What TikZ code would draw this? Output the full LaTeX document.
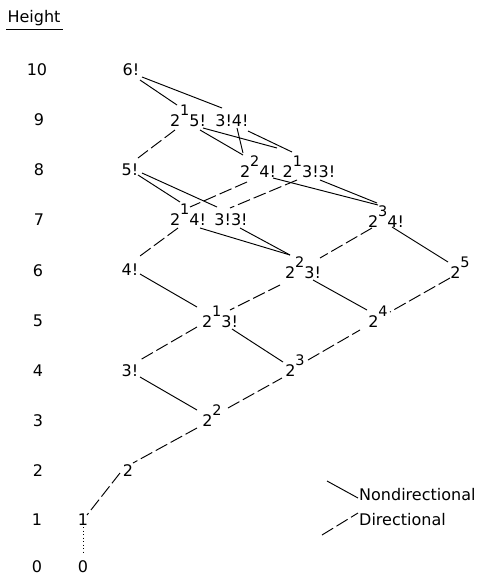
\documentclass[tikz,border=0pt]{standalone}
\usepackage{fontspec}
\setmainfont{DejaVu Sans}
\usetikzlibrary{calc}
\newcommand\supx[1]{\raisebox{11pt}{\fontsize{14.5}{14.5}\selectfont #1}}
\begin{document}
\begin{tikzpicture}[x=1pt,y=-1pt,
  lbl/.style={anchor=base,inner sep=0pt,font=\fontsize{16}{16}\selectfont},
  nd/.style={line width=0.95pt},
  dr/.style={line width=0.95pt,dash pattern=on 13pt off 4pt},
  dt/.style={line width=0.95pt,dash pattern=on 1pt off 2.5pt}]
\useasboundingbox (0,0) rectangle (478,576);
% heading
\node[lbl] (hd) at (34,22) {Height};
\draw[line width=0.95pt] ($(hd.base west)+(-1,7)$) -- ($(hd.base east)+(2,7)$);
% height scale
\node[lbl] (h10) at (37,75) {10};
\node[lbl] (h9) at (39,125) {9};
\node[lbl] (h8) at (39,175) {8};
\node[lbl] (h7) at (39,225) {7};
\node[lbl] (h6) at (38,276) {6};
\node[lbl] (h5) at (38,326) {5};
\node[lbl] (h4) at (38,376) {4};
\node[lbl] (h3) at (38,426) {3};
\node[lbl] (h2) at (38,476) {2};
\node[lbl] (h1) at (37,525) {1};
\node[lbl] (h0) at (37,572) {0};
% lattice nodes
\node[lbl] (n10) at (131,75) {6!};
\node[lbl] (n9a) at (188,126) {2\supx{1}5!};
\node[lbl] (n9b) at (232,126) {3!4!};
\node[lbl] (n8a) at (130,175) {5!};
\node[lbl] (n8b) at (258,177) {2\supx{2}4!};
\node[lbl] (n8c) at (309,177) {2\supx{1}3!3!};
\node[lbl] (n7a) at (188,225) {2\supx{1}4!};
\node[lbl] (n7b) at (231,225) {3!3!};
\node[lbl] (n7c) at (386,227) {2\supx{3}4!};
\node[lbl] (n6a) at (130,275) {4!};
\node[lbl] (n6b) at (303,278) {2\supx{2}3!};
\node[lbl] (n6c) at (460,278) {2\supx{5}};
\node[lbl] (n5a) at (220,327) {2\supx{1}3!};
\node[lbl] (n5b) at (378,327) {2\supx{4}};
\node[lbl] (n4a) at (130,376) {3!};
\node[lbl] (n4b) at (295,376) {2\supx{3}};
\node[lbl] (n3) at (212,426) {2\supx{2}};
\node[lbl] (n2) at (128,476) {2};
\node[lbl] (n1) at (83,525) {1};
\node[lbl] (n0) at (83,572) {0};
% nondirectional connectors
\draw[nd] ($(n10.base)+(9,5)$) -- ($(n9a.base)+(-11,-21)$);
\draw[nd] ($(n10.base)+(11,2)$) -- ($(n9b.base)+(-10,-18)$);
\draw[nd] ($(n9a.base)+(12,4)$) -- ($(n8b.base)+(-15,-22)$);
\draw[nd] ($(n9a.base)+(15,2)$) -- ($(n8c.base)+(-32,-29)$);
\draw[nd] ($(n9b.base)+(5,2)$) -- ($(n8b.base)+(-15,-24)$);
\draw[nd] ($(n9b.base)+(16,5)$) -- ($(n8c.base)+(-17,-25)$);
\draw[nd] ($(n8a.base)+(8,0)$) -- ($(n7a.base)+(-8,-23)$);
\draw[nd] ($(n8a.base)+(12,-2)$) -- ($(n7b.base)+(-14,-18)$);
\draw[nd] ($(n8b.base)+(15,1)$) -- ($(n7c.base)+(-8,-22)$);
\draw[nd] ($(n8c.base)+(11,3)$) -- ($(n7c.base)+(-9,-24)$);
\draw[nd] ($(n7a.base)+(12,3)$) -- ($(n6b.base)+(-13,-23)$);
\draw[nd] ($(n7b.base)+(9,3)$) -- ($(n6b.base)+(-13,-23)$);
\draw[nd] ($(n7c.base)+(6,0)$) -- ($(n6c.base)+(-12,-16)$);
\draw[nd] ($(n6a.base)+(10,-1)$) -- ($(n5a.base)+(-23,-20)$);
\draw[nd] ($(n6b.base)+(10,2)$) -- ($(n5b.base)+(-11,-17)$);
\draw[nd] ($(n5a.base)+(12,2)$) -- ($(n4b.base)+(-12,-14)$);
\draw[nd] ($(n4a.base)+(10,1)$) -- ($(n3.base)+(-15,-16)$);
% directional connectors
\draw[dr] ($(n9a.base)+(-13,4)$) -- ($(n8a.base)+(8,-17)$);
\draw[dr] ($(n8b.base)+(-11,5)$) -- ($(n7a.base)+(2,-18)$);
\draw[dr] ($(n8c.base)+(-12,3)$) -- ($(n7b.base)+(-1,-17)$);
\draw[dr] ($(n7a.base)+(-10,3)$) -- ($(n6a.base)+(10,-19)$);
\draw[dr] ($(n7c.base)+(-14,1)$) -- ($(n6b.base)+(17,-20)$);
\draw[dr] ($(n6b.base)+(-23,7)$) -- ($(n5a.base)+(10,-17)$);
\draw[dr] ($(n6c.base)+(-10,0)$) -- ($(n5b.base)+(12,-15)$);
\draw[dr] ($(n5a.base)+(-23,0)$) -- ($(n4a.base)+(10,-16)$);
\draw[dr] ($(n3.base)+(16,-18)$) -- ($(n4b.base)+(-13,2)$);
\draw[dr] ($(n4b.base)+(13,-16)$) -- ($(n5b.base)+(-18,3)$);
\draw[dr] ($(n3.base)+(-15,2)$) -- ($(n2.base)+(5,-13)$);
\draw[dr] ($(n2.base)+(-8,-3)$) -- ($(n1.base)+(4,-10)$);
\draw[dt] ($(n1.base)+(0,2)$) -- ($(n0.base)+(0,-19)$);
% legend
\node[lbl,anchor=base west] (lg1) at (359,500) {Nondirectional};
\node[lbl,anchor=base west] (lg2) at (359,525) {Directional};
\coordinate (lg1s) at (327,481);
\coordinate (lg2s) at (322,535);
\draw[nd] (lg1s) -- ($(lg1.base west)+(-1,-2)$);
\draw[dr] (lg2s) -- ($(lg2.base west)+(-1,-12)$);
\end{tikzpicture}
\end{document}
